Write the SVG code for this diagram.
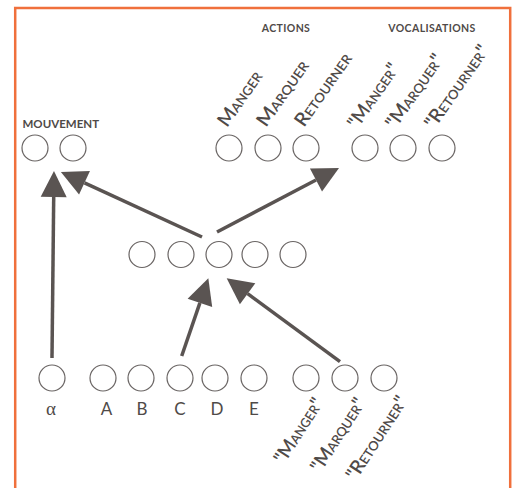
<svg xmlns="http://www.w3.org/2000/svg" width="514" height="488" viewBox="0 0 514 488">
<style>
.n{fill:#fff;stroke:#6a6564;stroke-width:1.2}
.c{stroke:#5a5452;stroke-width:3.5;fill:none;marker-end:url(#ah)}
text{font-family:Lato,"Open Sans","Liberation Sans",sans-serif;fill:#4f4a48}
.h{font-size:10.5px;font-weight:700;letter-spacing:0.4px;text-anchor:middle}
.r{font-size:19px;font-variant:small-caps;font-weight:600}
.l{font-size:17px;text-anchor:middle}
</style>
<defs>
<marker id="ah" markerUnits="userSpaceOnUse" markerWidth="27" markerHeight="27" refX="0" refY="13" orient="auto" overflow="visible">
<path d="M0,0 L26,13 L0,26 z" fill="#5a5452"/>
</marker>
</defs>
<rect x="15.2" y="8" width="495" height="490" fill="none" stroke="#f0703c" stroke-width="2.5"/>
<text class="h" x="286" y="32">ACTIONS</text>
<text class="h" x="432" y="32">VOCALISATIONS</text>
<text x="22.5" y="128" style="font-size:11.5px;font-weight:700">MOUVEMENT</text>
<g id="connectors">
<line class="c" x1="52" y1="358" x2="53.7" y2="197"/>
<line class="c" x1="202" y1="237" x2="84.5" y2="182.8"/>
<line class="c" x1="217" y1="232" x2="316" y2="180"/>
<line class="c" x1="181.7" y1="356" x2="199.9" y2="302.9"/>
<line class="c" x1="340" y1="361.7" x2="247.6" y2="293.7"/>
</g>
<g id="mouv1"><circle class="n" cx="35" cy="148" r="13"/></g>
<g id="mouv2"><circle class="n" cx="73" cy="148" r="13"/></g>
<g id="act-manger"><circle class="n" cx="229" cy="148" r="13"/><text class="r" textLength="63" lengthAdjust="spacingAndGlyphs" transform="translate(227,128) rotate(-55)">Manger</text></g>
<g id="act-marquer"><circle class="n" cx="268" cy="148" r="13"/><text class="r" textLength="76" lengthAdjust="spacingAndGlyphs" transform="translate(266,128) rotate(-55)">Marquer</text></g>
<g id="act-retourner"><circle class="n" cx="306" cy="148" r="13"/><text class="r" textLength="85" lengthAdjust="spacingAndGlyphs" transform="translate(304,128) rotate(-55)">Retourner</text></g>
<g id="voc-manger"><circle class="n" cx="365" cy="148" r="13"/><text class="r" textLength="75" lengthAdjust="spacingAndGlyphs" transform="translate(357,130) rotate(-55)">"Manger"</text></g>
<g id="voc-marquer"><circle class="n" cx="403" cy="148" r="13"/><text class="r" textLength="86" lengthAdjust="spacingAndGlyphs" transform="translate(395,130) rotate(-55)">"Marquer"</text></g>
<g id="voc-retourner"><circle class="n" cx="442" cy="148" r="13"/><text class="r" textLength="97" lengthAdjust="spacingAndGlyphs" transform="translate(434,130) rotate(-55)">"Retourner"</text></g>
<g id="h1"><circle class="n" cx="142" cy="254.5" r="13"/></g>
<g id="h2"><circle class="n" cx="181" cy="254.5" r="13"/></g>
<g id="h3"><circle class="n" cx="219" cy="254.5" r="13"/></g>
<g id="h4"><circle class="n" cx="255" cy="254.5" r="13"/></g>
<g id="h5"><circle class="n" cx="293" cy="254.5" r="13"/></g>
<g id="in-alpha"><circle class="n" cx="52" cy="378" r="13"/><text class="l" x="51" y="415" style="font-family:'Liberation Serif',serif;font-size:19px">α</text></g>
<g id="in-a"><circle class="n" cx="103" cy="378" r="13"/><text class="l" x="106.5" y="415">A</text></g>
<g id="in-b"><circle class="n" cx="141" cy="378" r="13"/><text class="l" x="142" y="415">B</text></g>
<g id="in-c"><circle class="n" cx="180" cy="378" r="13"/><text class="l" x="180" y="415">C</text></g>
<g id="in-d"><circle class="n" cx="215" cy="378" r="13"/><text class="l" x="217" y="415">D</text></g>
<g id="in-e"><circle class="n" cx="254" cy="378" r="13"/><text class="l" x="254" y="415">E</text></g>
<g id="in-manger"><circle class="n" cx="306" cy="378" r="13"/><text class="r" text-anchor="end" textLength="74" lengthAdjust="spacingAndGlyphs" transform="translate(324,403) rotate(-57)">"Manger"</text></g>
<g id="in-marquer"><circle class="n" cx="345" cy="378" r="13"/><text class="r" text-anchor="end" textLength="84" lengthAdjust="spacingAndGlyphs" transform="translate(366,403) rotate(-57)">"Marquer"</text></g>
<g id="in-retourner"><circle class="n" cx="384" cy="378" r="13"/><text class="r" text-anchor="end" textLength="96" lengthAdjust="spacingAndGlyphs" transform="translate(408,401) rotate(-57)">"Retourner"</text></g>
</svg>
